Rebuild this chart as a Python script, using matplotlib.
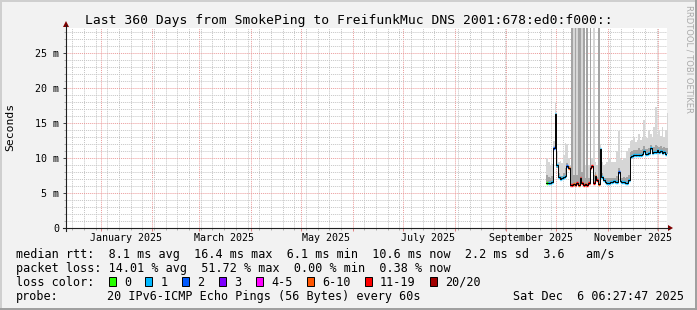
import numpy as np
import pandas as pd
import matplotlib
matplotlib.use('Agg')
import matplotlib.pyplot as plt
import matplotlib.dates as mdates
from matplotlib.patches import Rectangle, Polygon
from matplotlib.lines import Line2D
from matplotlib.ticker import MultipleLocator, FuncFormatter, NullFormatter

W, H = 697, 310
plt.rcParams['font.family'] = ['DejaVu Sans Mono']

# graph window (last 360 days)
start = pd.Timestamp('2024-12-11 06:27:47')
end = pd.Timestamp('2025-12-06 06:27:47')

# one sample per day, Sep 25 .. Dec 6 2025
days = pd.date_range('2025-09-25', '2025-12-06', freq='D')

# median rtt in ms
median_ms = [6.5, 6.4, 6.4, 6.6, 11.4, 16.3, 9.0, 7.3, 7.0, 7.1,
             7.3, 7.5, 8.9, 8.6, 6.2, 6.2, 6.3, 6.2, 6.4, 6.2,
             7.1, 6.4, 6.2, 6.3, 6.2, 6.5, 8.6, 8.8, 6.4, 7.5,
             6.9, 6.3, 11.3, 7.3, 6.8, 6.6, 6.5, 6.5, 6.6, 6.6,
             6.7, 6.6, 6.6, 8.0, 6.7, 6.6, 6.6, 6.4, 6.4, 6.9,
             10.2, 10.3, 10.4, 10.4, 10.5, 10.5, 10.5, 10.6, 11.0, 10.6,
             10.6, 10.7, 11.4, 10.7, 10.8, 10.8, 11.1, 10.8, 11.0, 10.7,
             10.9, 10.6, 10.6]

# outer smoke (highest pings), 30 = off the scale
smoke_hi_ms = [10.0, 9.5, 9.0, 9.2, 12.5, 17.8, 11.0, 9.5, 9.6, 9.3,
               10.5, 12.1, 12.0, 10.0, 9.0, 30, 30, 30, 30, 30,
               30, 30, 30, 9.0, 30, 9.0, 30, 10.0, 30, 9.5,
               9.0, 30, 12.0, 9.5, 9.0, 9.2, 9.5, 10.0, 10.0, 9.5,
               9.5, 9.5, 11.0, 13.8, 10.0, 9.7, 10.0, 10.0, 11.0, 11.5,
               12.5, 12.6, 13.0, 12.3, 12.6, 13.5, 12.6, 12.8, 15.4, 13.0,
               12.8, 14.0, 13.5, 13.0, 14.5, 17.3, 13.5, 14.0, 13.2, 14.5,
               13.0, 14.0, 16.4]

# inner smoke (most pings)
smoke_mid_ms = [7.6, 7.3, 7.2, 7.4, 11.5, 16.3, 8.6, 7.8, 7.5, 7.5,
                7.9, 8.6, 9.3, 8.8, 7.2, 30, 7.6, 30, 7.6, 30,
                30, 8.0, 30, 7.2, 30, 7.2, 30, 9.0, 7.6, 8.0,
                7.3, 30, 11.3, 7.8, 7.2, 7.1, 7.1, 7.2, 7.2, 7.1,
                7.1, 7.2, 7.4, 8.6, 7.3, 7.2, 7.3, 7.1, 7.3, 7.6,
                10.9, 11.0, 11.2, 11.1, 11.2, 11.4, 11.2, 11.3, 11.7, 11.3,
                11.3, 11.5, 11.9, 11.4, 11.6, 11.9, 11.7, 11.6, 11.7, 11.5,
                11.6, 11.4, 11.5]

# loss bucket per day (index into loss_labels)
loss_bucket = [0, 1, 1, 1, 2, 1, 1, 1, 1, 1,
               1, 1, 2, 5, 6, 6, 5, 6, 6, 5,
               6, 6, 6, 5, 6, 6, 6, 6, 6, 5,
               6, 5, 1, 1, 1, 1, 1, 1, 1, 1,
               1, 1, 1, 2, 1, 1, 1, 1, 1, 1,
               1, 1, 1, 1, 1, 1, 1, 1, 1, 1,
               1, 1, 1, 1, 1, 1, 1, 1, 1, 1,
               1, 1, 1]

loss_labels = ['0', '1', '2', '3', '4-5', '6-10', '11-19', '20/20']
loss_colors = ['#26ff00', '#00b8ff', '#0059ff', '#7e00ff',
               '#ff00ff', '#ff5500', '#ff0000', '#a10000']

label_months = ['2025-01-01', '2025-03-01', '2025-05-01',
                '2025-07-01', '2025-09-01', '2025-11-01']

stats_rtt = 'median rtt:  8.1 ms avg  16.4 ms max  6.1 ms min  10.6 ms now  2.2 ms sd  3.6   am/s'
stats_loss = 'packet loss: 14.01 % avg  51.72 % max  0.00 % min  0.38 % now'
probe_text = '20 IPv6-ICMP Echo Pings (56 Bytes) every 60s'
stamp_text = 'Sat Dec  6 06:27:47 2025'
title = 'Last 360 Days from SmokePing to FreifunkMuc DNS 2001:678:ed0:f000::'


def fx(x):
    return x / W


def fy(y):
    return 1 - y / H


fig = plt.figure(figsize=(W / 100, H / 100), dpi=100, facecolor='#f2f2f2')
ax = fig.add_axes([fx(66), fy(228), 601 / W, 200 / H])
ax.set_facecolor('white')
for s in ax.spines.values():
    s.set_visible(False)

x0 = mdates.date2num(days)
edges = np.append(x0, x0[-1] + 1)
med = np.array(median_ms)
med_e = np.append(med, med[-1])
hi_e = np.append(smoke_hi_ms, smoke_hi_ms[-1])
mid_e = np.append(smoke_mid_ms, smoke_mid_ms[-1])

# smoke
ax.fill_between(edges, med_e, hi_e, step='post', color='#d6d6d6', lw=0, zorder=2)
ax.fill_between(edges, med_e, mid_e, step='post', color='#a4a4a4', lw=0, zorder=2)

# median coloured by loss, then black line
ax.hlines(med, x0, x0 + 1, colors=[loss_colors[b] for b in loss_bucket],
          lw=2.4, zorder=3)
ax.step(edges, med_e, where='post', color='black', lw=0.7, zorder=4)

ax.set_xlim(mdates.date2num(start), mdates.date2num(end))
ax.set_ylim(0, 200 / 7)

# grid like rrdtool
ax.xaxis.set_major_locator(mdates.MonthLocator())
ax.xaxis.set_minor_locator(mdates.WeekdayLocator(byweekday=mdates.SU))
ax.xaxis.set_major_formatter(NullFormatter())
ax.yaxis.set_major_locator(MultipleLocator(5))
ax.yaxis.set_minor_locator(MultipleLocator(1))
ax.yaxis.set_major_formatter(FuncFormatter(lambda v, p: '0' if v == 0 else '%g m' % v))
ax.grid(which='minor', color='#c4c4c4', lw=0.7, ls=(0, (1, 1)), zorder=1)
ax.grid(which='major', color='#eb9a9a', lw=0.7, ls=(0, (1, 1)), zorder=1)
ax.set_axisbelow(True)
ax.tick_params(axis='y', which='major', length=2.2, width=0.7, color='#404040',
               pad=2.6, labelsize=7.2)
ax.tick_params(axis='y', which='minor', length=1.4, width=0.7, color='#b0b0b0')
ax.tick_params(axis='x', which='major', length=2.2, width=0.7, color='#e08080')
ax.tick_params(axis='x', which='minor', length=1.4, width=0.7, color='#b0b0b0')

# month labels centred half a month after the tick
for m in label_months:
    t = pd.Timestamp(m)
    ax.text(mdates.date2num(t + pd.Timedelta(days=15)), -13 / 200, t.strftime('%B %Y'),
            transform=ax.get_xaxis_transform(), ha='center', va='baseline', fontsize=7.2)

# axes with arrows
fig.add_artist(Line2D([fx(63), fx(669)], [fy(228), fy(228)], color='#202020', lw=0.8))
fig.add_artist(Line2D([fx(66), fx(66)], [fy(231), fy(25)], color='#202020', lw=0.8))
fig.add_artist(Polygon([(fx(668), fy(225)), (fx(673), fy(228)), (fx(668), fy(231))],
                       closed=True, color='#7f0000', lw=0))
fig.add_artist(Polygon([(fx(63), fy(27)), (fx(66), fy(21)), (fx(69), fy(27))],
                       closed=True, color='#7f0000', lw=0))

fig.text(0.5, fy(24), title, ha='center', va='baseline', fontsize=9.4)
fig.text(fx(10), fy(127), 'Seconds', rotation=90, ha='center', va='center', fontsize=8.2)
fig.text(fx(689), fy(5), 'RRDTOOL / TOBI OETIKER', rotation=270, ha='center', va='top',
         fontsize=6, color='#aaaaaa', family='DejaVu Sans')

# legend block
lx = 16
fs = 8.5
cw = 7.125
rows = [258.3, 272.1, 285.9, 299.7]
fig.text(fx(lx), fy(rows[0]), stats_rtt, va='baseline', fontsize=fs)
fig.text(fx(lx), fy(rows[1]), stats_loss, va='baseline', fontsize=fs)
fig.text(fx(lx), fy(rows[2]), 'loss color:', va='baseline', fontsize=fs)
bx = 108.7
for lab, col in zip(loss_labels, loss_colors):
    fig.add_artist(Rectangle((fx(bx), fy(rows[2] + 0.5)), 7 / W, 9 / H, facecolor=col,
                             edgecolor='black', lw=0.7))
    tx = bx + 15.3
    fig.text(fx(tx), fy(rows[2]), lab, va='baseline', fontsize=fs)
    bx = tx + len(lab) * cw + 14.3
fig.text(fx(lx), fy(rows[3]), 'probe:', va='baseline', fontsize=fs)
fig.text(fx(107.3), fy(rows[3]), probe_text, va='baseline', fontsize=fs)
fig.text(fx(513.3), fy(rows[3]), stamp_text, va='baseline', fontsize=fs)

# 3d border
fig.add_artist(Line2D([0, 1], [fy(0.5), fy(0.5)], color='#cfcfcf', lw=1.4))
fig.add_artist(Line2D([fx(0.5), fx(0.5)], [0, 1], color='#cfcfcf', lw=1.4))
fig.add_artist(Line2D([0, 1], [fy(309), fy(309)], color='#9e9e9e', lw=1.4))
fig.add_artist(Line2D([fx(696), fx(696)], [0, 1], color='#9e9e9e', lw=1.4))

fig.savefig('out.png', dpi=100, facecolor=fig.get_facecolor())
